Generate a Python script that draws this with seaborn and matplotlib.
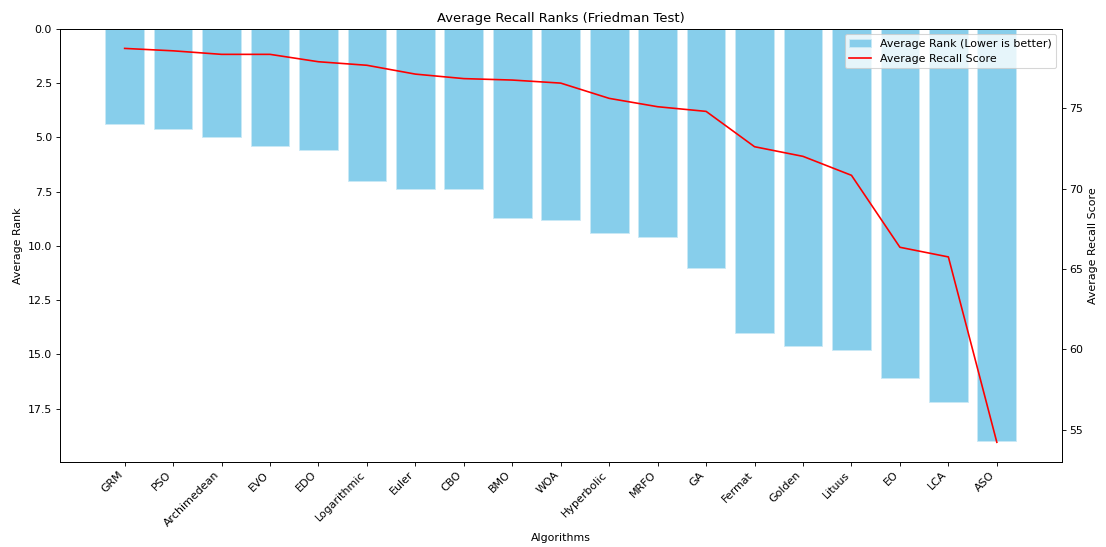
import matplotlib
matplotlib.use("Agg")
import matplotlib.pyplot as plt
import seaborn as sns
import pandas as pd
import numpy as np

algorithms = ["GRM", "PSO", "Archimedean", "EVO", "EDO", "Logarithmic", "Euler", "CBO",
              "BMO", "WOA", "Hyperbolic", "MRFO", "GA", "Fermat", "Golden", "Lituus",
              "EO", "LCA", "ASO"]
avg_rank = [4.4, 4.6, 5.0, 5.4, 5.6, 7.0, 7.4, 7.4, 8.7, 8.8, 9.4, 9.6, 11.0, 14.0,
            14.6, 14.8, 16.1, 17.2, 19.0]
avg_recall = [78.73, 78.58, 78.36, 78.36, 77.90, 77.68, 77.13, 76.85, 76.76, 76.57,
              75.62, 75.10, 74.81, 72.61, 72.01, 70.83, 66.35, 65.75, 54.21]

df = pd.DataFrame({"Algorithm": algorithms, "Rank": avg_rank, "Recall": avg_recall})

DPI = 79
fig, ax = plt.subplots(figsize=(1106 / DPI, 547 / DPI), dpi=DPI)
fig.subplots_adjust(left=0.054, right=0.960, top=0.9475, bottom=0.1554)

sns.barplot(data=df, x="Algorithm", y="Rank", color="skyblue", saturation=1,
            width=0.8, ax=ax, label="Average Rank (Lower is better)",
            edgecolor="#c9e9f6", linewidth=0.8)
n = len(algorithms)
xlim = (-0.4 - 0.05 * (n - 0.2), n - 0.6 + 0.05 * (n - 0.2))
ax.set_xlim(*xlim)
ax.set_ylim(max(avg_rank) * 1.05, 0)
ax.set_xlabel("Algorithms")
ax.set_ylabel("Average Rank")
ax.set_title("Average Recall Ranks (Friedman Test)")
ax.set_xticks(range(n))
ax.set_xticklabels(algorithms, rotation=45, ha="right")

ax2 = ax.twinx()
pos = np.arange(n)
sns.lineplot(x=pos, y=df["Recall"], color="red", ax=ax2, label="Average Recall Score",
             linewidth=1.5, sort=False)
lo, hi = min(avg_recall), max(avg_recall)
r = hi - lo
ax2.set_ylim(lo - 0.05 * r, hi + 0.05 * r)
ax2.set_ylabel("Average Recall Score")
ax.set_xlim(*xlim)

h1, l1 = ax.get_legend_handles_labels()
h2, l2 = ax2.get_legend_handles_labels()
if ax.get_legend() is not None:
    ax.get_legend().remove()
ax2.legend(h1 + h2, l1 + l2, loc="upper right")

fig.savefig("out.png", dpi=DPI)
